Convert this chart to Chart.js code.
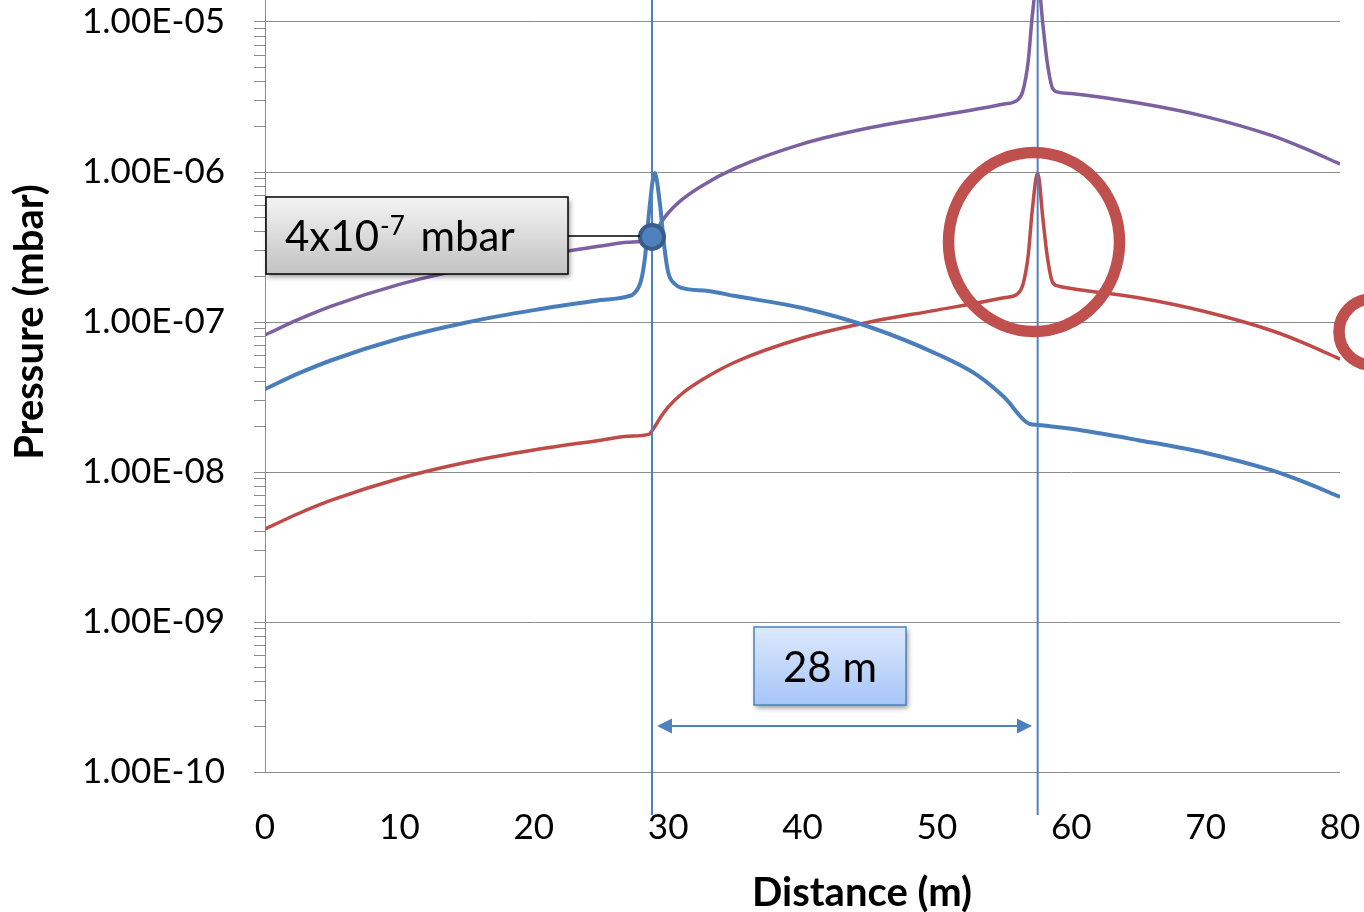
<!DOCTYPE html>
<html>
<head>
<meta charset="utf-8">
<script src="https://cdn.jsdelivr.net/npm/chart.js@4/dist/chart.umd.min.js"></script>
<style>
html, body { margin: 0; padding: 0; background: #fff; overflow: hidden; width: 1364px; height: 912px; }
#wrap { position: absolute; left: 0; top: -150px; width: 1364px; height: 1062px; }
</style>
</head>
<body>
<div id="wrap"><canvas id="pressure" width="1364" height="1062"></canvas></div>
<script>
// distance (m) / pressure (mbar)
var blueDist = [0, 2.5, 5, 10, 15, 20, 25, 27, 27.5, 28, 28.3, 28.6, 29, 29.4, 29.7, 30, 30.5, 31, 33, 35, 40, 45, 50, 53, 55, 56.9, 57.5, 60, 65, 70, 75, 77.5, 80];
var bluePress = [3.57e-8, 4.54e-8, 5.58e-8, 7.76e-8, 9.93e-8, 1.20e-7, 1.40e-7, 1.48e-7, 1.56e-7, 1.91e-7, 2.80e-7, 5.58e-7, 9.84e-7, 6.03e-7, 3.26e-7, 2.15e-7, 1.79e-7, 1.69e-7, 1.61e-7, 1.49e-7, 1.24e-7, 9.26e-8, 6.12e-8, 4.43e-8, 3.16e-8, 2.09e-8, 2.06e-8, 1.94e-8, 1.63e-8, 1.34e-8, 1.02e-8, 8.45e-9, 6.81e-9];

var purpleDist = [0, 2.5, 5, 10, 15, 20, 25, 27, 28.8, 29.5, 30, 31, 32.5, 35, 40, 45, 50, 55, 56, 56.4, 56.8, 57.1, 57.5, 57.9, 58.2, 58.6, 59, 60, 65, 70, 75, 77.5, 80];
var purplePress = [8.19e-8, 1.04e-7, 1.28e-7, 1.78e-7, 2.27e-7, 2.75e-7, 3.21e-7, 3.40e-7, 3.60e-7, 4.64e-7, 5.33e-7, 6.51e-7, 8.07e-7, 1.06e-6, 1.54e-6, 1.97e-6, 2.36e-6, 2.84e-6, 3.02e-6, 3.47e-6, 5.50e-6, 1.10e-5, 1.94e-5, 9.40e-6, 5.50e-6, 3.63e-6, 3.41e-6, 3.34e-6, 2.88e-6, 2.34e-6, 1.74e-6, 1.42e-6, 1.13e-6];

var redDist = [0, 2.5, 5, 10, 15, 20, 25, 27, 28.6, 28.8, 29.5, 30, 31, 32.5, 35, 40, 45, 50, 55, 56, 56.4, 56.8, 57.1, 57.5, 57.9, 58.2, 58.6, 59, 60, 65, 70, 75, 77.5, 80];
var redPress = [4.17e-9, 5.29e-9, 6.51e-9, 9.05e-9, 1.16e-8, 1.40e-8, 1.63e-8, 1.73e-8, 1.79e-8, 1.88e-8, 2.36e-8, 2.71e-8, 3.31e-8, 4.10e-8, 5.41e-8, 7.82e-8, 1.00e-7, 1.20e-7, 1.45e-7, 1.54e-7, 1.77e-7, 2.80e-7, 5.58e-7, 9.84e-7, 4.79e-7, 2.80e-7, 1.85e-7, 1.74e-7, 1.67e-7, 1.45e-7, 1.17e-7, 8.71e-8, 7.13e-8, 5.66e-8];

// the marked point and the two marker positions
var calloutDist = [28.8];
var calloutPress = [3.69e-7];
var markerDist = [28.8, 57.5];
var calloutText = ['4x10', '-7', ' mbar'];
var spanText = '28 m';

// y axis: decades and the minor steps in between
var yDecades = [-10, -9, -8, -7, -6, -5, -4];
var yMinor = [1, 2, 3, 4, 5, 6, 7, 8, 9];
var yMin = 1e-10, yMax = 1e-4;

var OFF = 150; // rows of canvas hidden above the window
var GRID = '#8c8c8c';

function pts(xs, ys) {
  var out = [];
  for (var i = 0; i < xs.length; i++) out.push({x: xs[i], y: ys[i]});
  return out;
}
function isDecade(v) {
  var l = Math.log10(v);
  return Math.abs(l - Math.round(l)) < 1e-6;
}
function box(ctx, x, y, w, h, c1, c2, border) {
  ctx.save();
  ctx.shadowColor = 'rgba(0,0,0,0.4)';
  ctx.shadowBlur = 5;
  ctx.shadowOffsetX = 2;
  ctx.shadowOffsetY = 3;
  var g = ctx.createLinearGradient(0, y, 0, y + h);
  g.addColorStop(0, c1);
  g.addColorStop(1, c2);
  ctx.fillStyle = g;
  ctx.fillRect(x, y, w, h);
  ctx.restore();
  ctx.strokeStyle = border;
  ctx.lineWidth = 1.5;
  ctx.strokeRect(x, y, w, h);
}

var overlays = {
  id: 'overlays',
  afterDatasetDraw: function(chart, args) {
    // vertical markers go over the curves but under the dot
    if (args.index !== 1) return;
    var ctx = chart.ctx, xs = chart.scales.x, area = chart.chartArea;
    ctx.save();
    ctx.strokeStyle = '#4F81BD';
    ctx.lineWidth = 2;
    markerDist.forEach(function(d) {
      var px = xs.getPixelForValue(d);
      ctx.beginPath();
      ctx.moveTo(px, OFF - 10);
      ctx.lineTo(px, area.bottom + 43);
      ctx.stroke();
    });
    ctx.restore();
  },
  afterDraw: function(chart) {
    var ctx = chart.ctx;
    var xs = chart.scales.x, ys = chart.scales.y;
    ctx.save();

    // callout box + leader line
    var dotX = xs.getPixelForValue(calloutDist[0]);
    var dotY = ys.getPixelForValue(calloutPress[0]);
    ctx.strokeStyle = '#000';
    ctx.lineWidth = 1.5;
    ctx.beginPath();
    ctx.moveTo(568, dotY - 1);
    ctx.lineTo(dotX - 12, dotY - 1);
    ctx.stroke();
    box(ctx, 266, 197 + OFF, 302, 77, '#f4f4f4', '#c2c2c2', '#000');
    ctx.fillStyle = '#000';
    ctx.textBaseline = 'alphabetic';
    ctx.textAlign = 'left';
    ctx.font = '42px Lato';
    var tx = 285;
    ctx.fillText(calloutText[0], tx, 251 + OFF);
    tx += ctx.measureText(calloutText[0]).width + 1;
    ctx.font = '26px Lato';
    ctx.fillText(calloutText[1], tx, 235 + OFF);
    tx += ctx.measureText(calloutText[1]).width + 5;
    ctx.font = '42px Lato';
    ctx.fillText(calloutText[2], tx, 251 + OFF);

    // span box
    box(ctx, 754, 627 + OFF, 152, 78, '#dde9fc', '#a6c5f7', '#4F81BD');
    ctx.fillStyle = '#000';
    ctx.textAlign = 'center';
    ctx.fillText(spanText, 830, 682 + OFF);

    // double arrow
    var ay = 726 + OFF, ax1 = 657, ax2 = 1032;
    ctx.strokeStyle = '#4F81BD';
    ctx.fillStyle = '#4F81BD';
    ctx.lineWidth = 2;
    ctx.beginPath();
    ctx.moveTo(ax1 + 10, ay);
    ctx.lineTo(ax2 - 10, ay);
    ctx.stroke();
    ctx.beginPath();
    ctx.moveTo(ax1, ay); ctx.lineTo(ax1 + 15, ay - 7.5); ctx.lineTo(ax1 + 15, ay + 7.5); ctx.closePath();
    ctx.fill();
    ctx.beginPath();
    ctx.moveTo(ax2, ay); ctx.lineTo(ax2 - 15, ay - 7.5); ctx.lineTo(ax2 - 15, ay + 7.5); ctx.closePath();
    ctx.fill();

    // red rings
    ctx.strokeStyle = '#C0504D';
    ctx.lineWidth = 11.5;
    ctx.beginPath();
    ctx.ellipse(1034, 242 + OFF, 85.5, 89.5, 0, 0, Math.PI * 2);
    ctx.stroke();
    ctx.beginPath();
    ctx.arc(1372, 332 + OFF, 33, 0, Math.PI * 2);
    ctx.stroke();

    // x axis title
    ctx.fillStyle = '#000';
    ctx.font = 'bold 40px Lato';
    ctx.textAlign = 'center';
    ctx.textBaseline = 'middle';
    ctx.fillText('Distance (m)', 862, 893 + OFF);
    ctx.restore();
  }
};

var chart = new Chart(document.getElementById('pressure'), {
  type: 'line',
  data: {
    datasets: [
      {
        label: 'marker',
        data: pts(calloutDist, calloutPress),
        showLine: false,
        pointRadius: 12,
        pointBackgroundColor: '#4F81BD',
        pointBorderColor: '#385D8A',
        pointBorderWidth: 4
      },
      {
        label: 'blue',
        data: pts(blueDist, bluePress),
        borderColor: '#4A7EBB',
        borderWidth: 4,
        pointRadius: 0,
        cubicInterpolationMode: 'monotone'
      },
      {
        label: 'red',
        data: pts(redDist, redPress),
        borderColor: '#BE4B48',
        borderWidth: 3.5,
        pointRadius: 0,
        cubicInterpolationMode: 'monotone'
      },
      {
        label: 'purple',
        data: pts(purpleDist, purplePress),
        borderColor: '#7D60A0',
        borderWidth: 3.5,
        pointRadius: 0,
        cubicInterpolationMode: 'monotone'
      }
    ]
  },
  options: {
    responsive: false,
    animation: false,
    layout: { padding: { top: 22, right: 24, left: 0, bottom: 0 } },
    plugins: { legend: { display: false }, tooltip: { enabled: false } },
    scales: {
      x: {
        type: 'linear',
        min: 0,
        max: 80,
        grid: { display: false, drawTicks: false },
        border: { display: false },
        ticks: { stepSize: 10, padding: 35, color: '#000', font: { family: 'Lato', size: 35 } },
        afterFit: function(s) { s.height = 140; s.paddingLeft = 0; s.paddingRight = 0; }
      },
      y: {
        type: 'logarithmic',
        min: yMin,
        max: yMax,
        afterBuildTicks: function(s) {
          var t = [];
          yDecades.forEach(function(e) {
            yMinor.forEach(function(m) {
              var v = m * Math.pow(10, e);
              if (v <= yMax * 1.0001) t.push({value: v});
            });
          });
          s.ticks = t;
        },
        afterFit: function(s) { s.width = 265; s.paddingTop = 0; s.paddingBottom = 0; },
        grid: {
          color: function(c) { return c.tick && isDecade(c.tick.value) ? GRID : 'rgba(0,0,0,0)'; },
          tickColor: GRID,
          tickLength: 11,
          lineWidth: 1
        },
        border: { display: true, color: GRID, width: 1 },
        ticks: {
          autoSkip: false,
          padding: 29,
          color: '#000',
          font: { family: 'Lato', size: 35 },
          callback: function(v) {
            if (!isDecade(v)) return '';
            var e = Math.round(Math.log10(v));
            return '1.00E-' + String(-e).padStart(2, '0');
          }
        },
        title: {
          display: true,
          text: 'Pressure (mbar)',
          color: '#000',
          font: { family: 'Lato', size: 40, weight: 'bold' },
          padding: { top: 6, bottom: 0 }
        }
      }
    }
  },
  plugins: [overlays]
});
</script>
</body>
</html>
